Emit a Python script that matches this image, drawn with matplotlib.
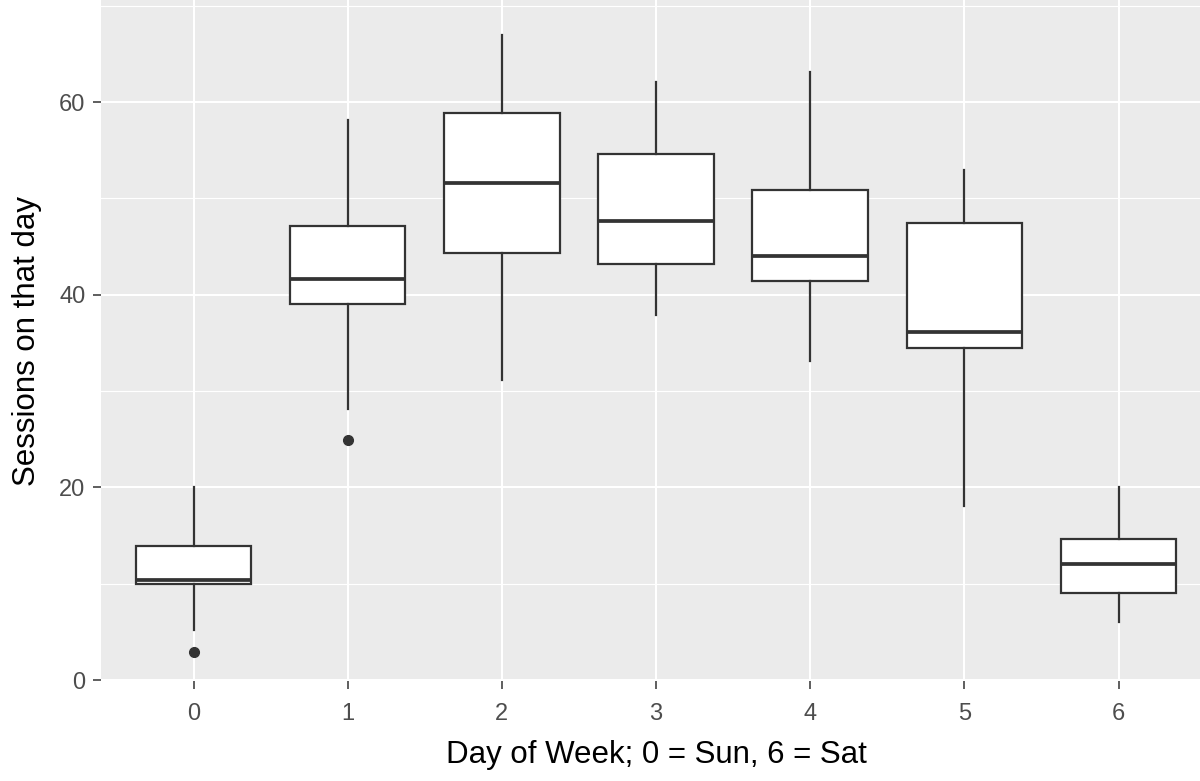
import matplotlib
matplotlib.use("Agg")
import matplotlib.pyplot as plt
from matplotlib.ticker import MultipleLocator

plt.rcParams['font.family'] = ['Liberation Sans', 'DejaVu Sans']

# box statistics
days = [0, 1, 2, 3, 4, 5, 6]
whislo = [5.2, 28.1, 31.1, 37.9, 33.1, 18.1, 6.0]
q1 = [10.0, 39.0, 44.3, 43.2, 41.4, 34.5, 9.0]
med = [10.4, 41.6, 51.6, 47.7, 44.0, 36.1, 12.0]
q3 = [13.9, 47.1, 58.9, 54.6, 50.9, 47.4, 14.6]
whishi = [20.0, 58.1, 67.0, 62.1, 63.1, 52.9, 20.0]
outliers = [[2.9], [24.9], [], [], [], [], []]

stats = []
for i in range(len(days)):
    stats.append(dict(whislo=whislo[i], q1=q1[i], med=med[i], q3=q3[i],
                      whishi=whishi[i], fliers=outliers[i], label=str(days[i])))

fig = plt.figure(figsize=(12, 7.81), dpi=100)
ax = fig.add_axes([101 / 1200, 100 / 781, 1110 / 1200, 681 / 781])
ax.set_facecolor('#EBEBEB')

ink = '#333333'
ax.bxp(stats, positions=days, widths=0.75, showcaps=False, patch_artist=True,
       boxprops=dict(facecolor='white', edgecolor=ink, linewidth=1.6),
       whiskerprops=dict(color=ink, linewidth=1.6),
       medianprops=dict(color=ink, linewidth=2.7),
       flierprops=dict(marker='o', markerfacecolor=ink, markeredgecolor=ink,
                       markersize=7))

ax.set_xlim(-0.6, 6.6)
ax.set_ylim(-0.1, 70.6)
ax.yaxis.set_major_locator(MultipleLocator(20))
ax.yaxis.set_minor_locator(MultipleLocator(10))
ax.grid(True, which='major', color='white', linewidth=1.5)
ax.grid(True, which='minor', axis='y', color='white', linewidth=0.8)
ax.set_axisbelow(True)
for s in ax.spines.values():
    s.set_visible(False)

ax.tick_params(axis='both', which='major', length=5.8, width=1.1, color=ink,
               labelsize=17, labelcolor='#4D4D4D')
ax.tick_params(axis='x', pad=10)
ax.tick_params(axis='y', pad=5.5)
ax.tick_params(axis='y', which='minor', length=0)

ax.set_xlabel('Day of Week; 0 = Sun, 6 = Sat', fontsize=22.5, color='black', labelpad=11)
ax.set_ylabel('Sessions on that day', fontsize=22.5, color='black', labelpad=12)

fig.savefig('out.png', dpi=100)
